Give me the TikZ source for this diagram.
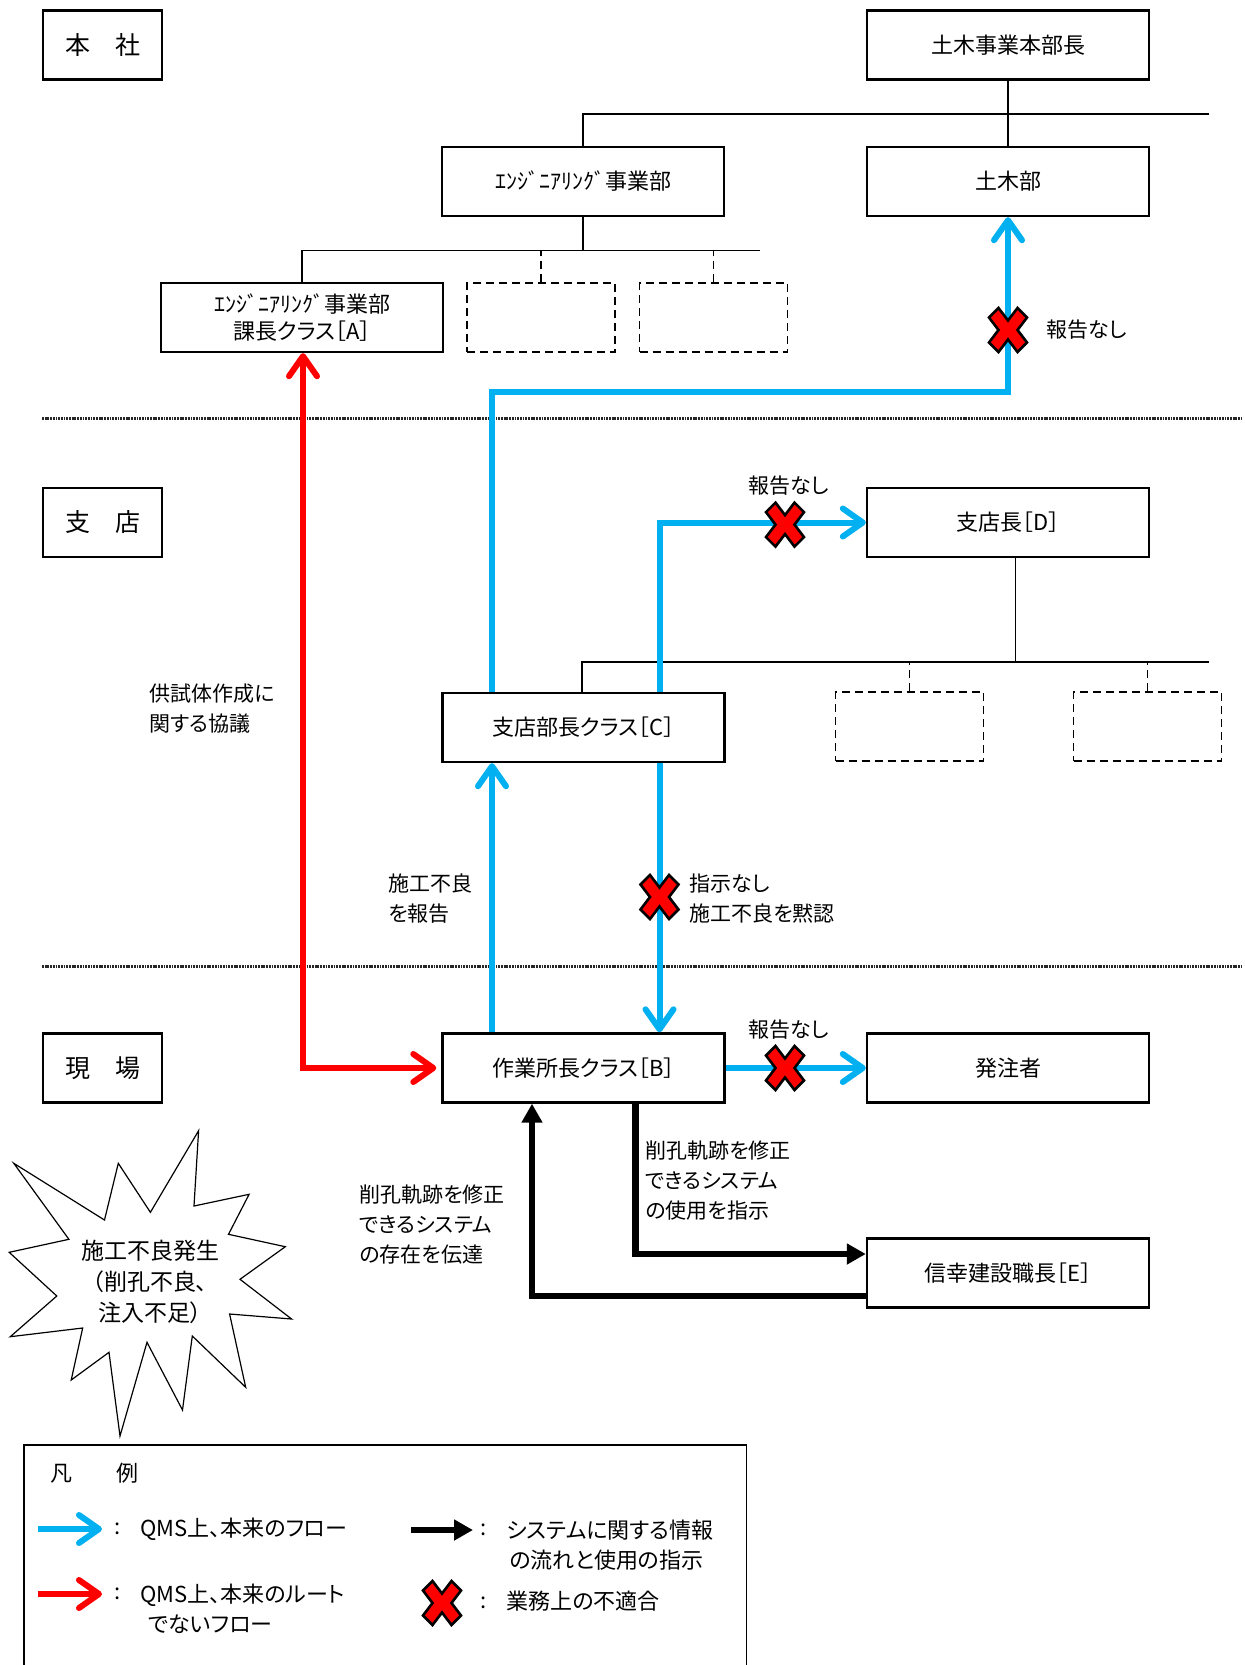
\documentclass[tikz,border=0pt]{standalone}
\usepackage{fontspec}
\setmainfont{Noto Sans CJK JP}[RawFeature=+palt]
\usetikzlibrary{arrows.meta}
\definecolor{qblue}{RGB}{0,176,240}
\definecolor{qred}{RGB}{255,0,0}
\newcommand\fsz[2]{\fontsize{#1}{#2}\selectfont}
\tikzset{
  box/.style={draw, line width=1.2pt, minimum width=141pt, minimum height=34.5pt, inner sep=0pt, fill=white, font=\fsz{11pt}{13.3pt}},
  tagbox/.style={draw, line width=1.2pt, minimum width=59.5pt, minimum height=34.5pt, inner sep=0pt, font=\fsz{12.5pt}{15pt}},
  dbox/.style={draw, line width=0.7pt, dash pattern=on 4pt off 2.5pt, minimum width=74pt, minimum height=34.5pt, inner sep=0pt},
  org/.style={line width=0.75pt},
  orgd/.style={line width=0.7pt, dash pattern=on 4pt off 2.5pt},
  sepline/.style={line width=1.5pt, black!85, dash pattern=on 0.9pt off 0.45pt},
  barb/.tip={Straight Barb[length=10pt,width=14pt,round]},
  barrow/.style={draw=qblue, line width=3pt, -barb},
  rarrow/.style={draw=qred, line width=3pt, -barb},
  rdarrow/.style={draw=qred, line width=3pt, barb-barb},
  karrow/.style={draw=black, line width=3.3pt, -{Triangle[length=9.5pt,width=10pt]}},
  lbl/.style={inner sep=0pt, font=\fsz{10.5pt}{15pt}, align=left},
  leg/.style={inner sep=0pt, font=\fsz{11pt}{15pt}, align=left, anchor=west},
  xmark/.pic={\filldraw[fill=qred, draw=black, line width=1.3pt, line join=miter]
     (-19,-12.5) -- (-9.5,-22) -- (0,-9.5) -- (9.5,-22) -- (19,-12.5) -- (9.5,0) -- (19,12.5)
     -- (9.5,22) -- (0,9.5) -- (-9.5,22) -- (-19,12.5) -- (-9.5,0) -- cycle;}
}
\begin{document}
\begin{tikzpicture}[x=0.5pt,y=-0.5pt]
\useasboundingbox[fill=white] (0,0) rectangle (1245,1665);

% separators
\draw[sepline] (42,418.5) -- (1241,418.5);
\draw[sepline] (42,966.4) -- (1241,966.4);

% tag boxes
\node[tagbox] (honsha) at (102.5,45) {本　社};
\node[tagbox] (shiten) at (102.5,522.5) {支　店};
\node[tagbox] (genba) at (102.5,1068) {現　場};

% org boxes
\node[box] (honbu) at (1008,45) {土木事業本部長};
\node[box] (eng) at (583,181.5) {ｴﾝｼﾞﾆｱﾘﾝｸﾞ事業部};
\node[box] (dobokubu) at (1008,181.5) {土木部};
\node[box, align=center] (A) at (302,317.5) {ｴﾝｼﾞﾆｱﾘﾝｸﾞ事業部\\課長クラス［A］};
\node[dbox] (dash1) at (541,317.5) {};
\node[dbox] (dash2) at (713.5,317.5) {};
\node[box] (D) at (1008,522.5) {支店長［D］};
\node[box] (C) at (583.5,727.5) {支店部長クラス［C］};
\node[dbox] (dash3) at (909.5,726.5) {};
\node[dbox] (dash4) at (1147.5,726.5) {};
\node[box] (B) at (583.5,1068) {作業所長クラス［B］};
\node[box] (hatchu) at (1008,1068) {発注者};
\node[box] (E) at (1008,1273) {信幸建設職長［E］};

% org lines
\draw[org] (honbu.south) -- (dobokubu.north);
\draw[org] (eng.north) |- (1209,114);
\draw[org] (eng.south) -- (eng.south |- 0,250.7);
\draw[org] (A.north) |- (760,250.7);
\draw[orgd] (dash1.north) -- (dash1.north |- 0,250.7);
\draw[orgd] (dash2.north) -- (dash2.north |- 0,250.7);
\draw[org] (D.south -| 1015.4,0) -- (1015.4,662);
\draw[org] (C.north -| 582,0) |- (1208.5,662);
\draw[orgd] (dash3.north) -- (dash3.north |- 0,662);
\draw[orgd] (dash4.north) -- (dash4.north |- 0,662);

% blue flows
\draw[barrow] (C.north -| 492,0) -- (492,391.7) -| (dobokubu.south);
\draw[barrow] (C.north -| 659.5,0) |- (D.west);
\draw[barrow] (B.north -| 492,0) -- (C.south -| 492,0);
\draw[barrow] (C.south -| 659.5,0) -- (B.north -| 659.5,0);
\draw[barrow] (B.east) -- (hatchu.west);

% red flow
\draw[rdarrow] (A.south -| 303,0) |- ([xshift=-2.5pt]B.west);

% black flows
\draw[karrow] (B.south -| 635.5,0) |- ([yshift=9.5pt]E.west);
\draw[karrow] ([yshift=-11.5pt]E.west) -| (B.south -| 532,0);

% nonconformity marks
\pic at (1008,330) {xmark};
\pic at (785,524.6) {xmark};
\pic at (659.5,897) {xmark};
\pic at (785,1068) {xmark};

% labels
\node[lbl, anchor=west] (l1) at (1046,330) {報告なし};
\node[lbl] (l2) at (789,486) {報告なし};
\node[lbl] (l5) at (789,1030) {報告なし};
\node[lbl, anchor=west] (l3) at (388,899) {施工不良\\を報告};
\node[lbl, anchor=west] (l4) at (689,899) {指示なし\\施工不良を黙認};
\node[lbl, anchor=west] (l6) at (149,708.5) {供試体作成に\\関する協議};
\node[lbl, anchor=west] (l7) at (645,1180.5) {削孔軌跡を修正\\できるシステム\\の使用を指示};
\node[lbl, anchor=west] (l8) at (359,1225) {削孔軌跡を修正\\できるシステム\\の存在を伝達};

% starburst
\draw[line width=0.6pt, fill=white] (198.6,1130.7) -- (194.0,1206) -- (249.1,1194.3) -- (228.5,1234.3)
 -- (285.3,1246.7) -- (240.0,1279.3) -- (291.6,1319) -- (229.6,1314) -- (245.7,1387.3)
 -- (192.3,1336) -- (182.5,1410) -- (147,1342.3) -- (120,1436) -- (109,1352.3)
 -- (71.2,1380) -- (82.7,1328) -- (10.3,1336.7) -- (56.8,1296) -- (9.2,1252.3)
 -- (68.9,1239.3) -- (13.8,1163.3) -- (104.5,1220) -- (118.3,1163.3) -- (150.4,1212.3) -- cycle;
\node[inner sep=0pt, align=center, font=\fsz{11.5pt}{15.5pt}] (burst) at (150,1282) {施工不良発生\\（削孔不良、\\注入不足）};

% legend
\draw[line width=0.8pt] (24,1670) -- (24,1445) -- (746.5,1445) -- (746.5,1670);
\node[leg] (legtitle) at (50,1473) {凡　　例};
\coordinate (lb1) at (38,1529); \coordinate (lb2) at (102,1529);
\draw[barrow] (lb1) -- (lb2);
\node[leg] (c1) at (114,1529) {:};
\node[leg] (t1) at (140,1529) {QMS上、本来のフロー};
\coordinate (lr1) at (38,1594); \coordinate (lr2) at (102,1594);
\draw[rarrow] (lr1) -- (lr2);
\node[leg] (c2) at (114,1594) {:};
\node[leg] (t2) at (140,1608.5) {QMS上、本来のルート\\\hspace*{4pt}でないフロー};
\coordinate (lk1) at (411,1530); \coordinate (lk2) at (473,1530);
\draw[karrow] (lk1) -- (lk2);
\node[leg] (c3) at (480,1530) {:};
\node[leg] (t3) at (506,1545) {システムに関する情報\\\hspace*{1.5pt}の流れと使用の指示};
\pic at (442,1603) {xmark};
\node[leg] (c4) at (480,1603) {:};
\node[leg] (t4) at (506,1601) {業務上の不適合};
\end{tikzpicture}
\end{document}
